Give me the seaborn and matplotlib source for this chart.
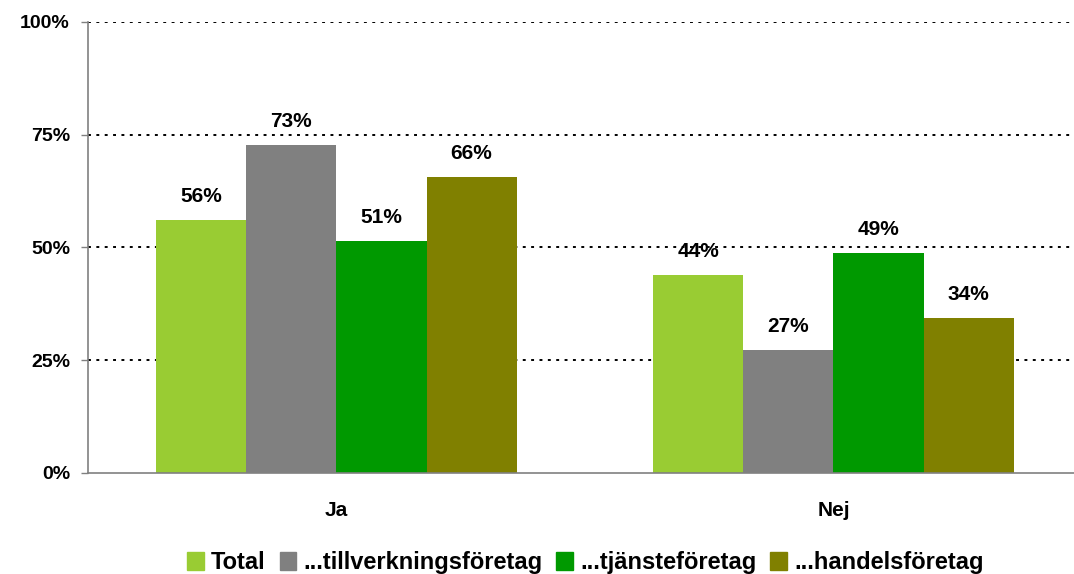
import pandas as pd
import matplotlib.pyplot as plt
import seaborn as sns

# data
answers = ["Ja", "Nej"]
groups = ["Total", "...tillverkningsföretag", "...tjänsteföretag", "...handelsföretag"]
total = [56.1, 43.9]
tillverkning = [72.7, 27.3]
tjanste = [51.4, 48.8]
handel = [65.6, 34.4]
colors = ["#99CC33", "#808080", "#009900", "#808000"]
yticks = [0, 25, 50, 75, 100]

rows = []
for name, vals in zip(groups, [total, tillverkning, tjanste, handel]):
    for ans, v in zip(answers, vals):
        rows.append({"svar": ans, "grupp": name, "andel": v})
df = pd.DataFrame(rows)

sns.set_style("white")
plt.rcParams['font.family'] = ['Liberation Sans', 'DejaVu Sans']
plt.rcParams['font.weight'] = 'bold'
plt.rcParams['text.color'] = 'black'
plt.rcParams['xtick.labelcolor'] = 'black'
plt.rcParams['ytick.labelcolor'] = 'black'

fig = plt.figure(figsize=(10.74, 5.74), dpi=100)
ax = fig.add_axes([0.0819, 0.176, 0.9255, 0.7857])

sns.barplot(data=df, x="svar", y="andel", hue="grupp", hue_order=groups,
            palette=colors, width=0.725, gap=0, saturation=1,
            edgecolor="none", linewidth=0, ax=ax)

for cont in ax.containers:
    ax.bar_label(cont, labels=[f"{round(b.get_height()):.0f}%" for b in cont],
                 padding=10, fontsize=15, fontweight='bold', color='black')

ax.set_ylim(0, 100)
ax.set_xlim(-0.5, 1.5)
ax.set_yticks(yticks)
ax.set_yticklabels([f"{t}%" for t in yticks], fontsize=14, fontweight='bold')
for t in yticks[1:]:
    ax.axhline(t, color="black", linestyle=(0, (1.5, 2.8)), linewidth=1.4, zorder=0)

ax.set_xticks([0, 1])
ax.set_xticklabels(answers, fontsize=15, fontweight='bold')
ax.set_xticks([-0.5, 0.5, 1.5], minor=True)
ax.tick_params(axis="x", which="major", length=0, pad=20)
ax.tick_params(axis="x", which="minor", length=5, color="#808080", width=1, direction="out")
ax.tick_params(axis="y", length=5, color="#808080", width=1, direction="out", left=True, pad=8)
ax.set_xlabel("")
ax.set_ylabel("")

for s in ["top", "right"]:
    ax.spines[s].set_visible(False)
for s in ["left", "bottom"]:
    ax.spines[s].set_color("#808080")
    ax.spines[s].set_linewidth(1.2)

ax.legend_.remove()
handles = [plt.Rectangle((0, 0), 1, 1, color=c) for c in colors]
fig.legend(handles, groups, loc="lower center", bbox_to_anchor=(0.545, -0.037),
           ncol=4, frameon=False, handlelength=0.7, handleheight=0.8,
           handletextpad=0.3, columnspacing=0.6,
           prop={"size": 17, "weight": "bold"})

fig.savefig("out.png", dpi=100)
